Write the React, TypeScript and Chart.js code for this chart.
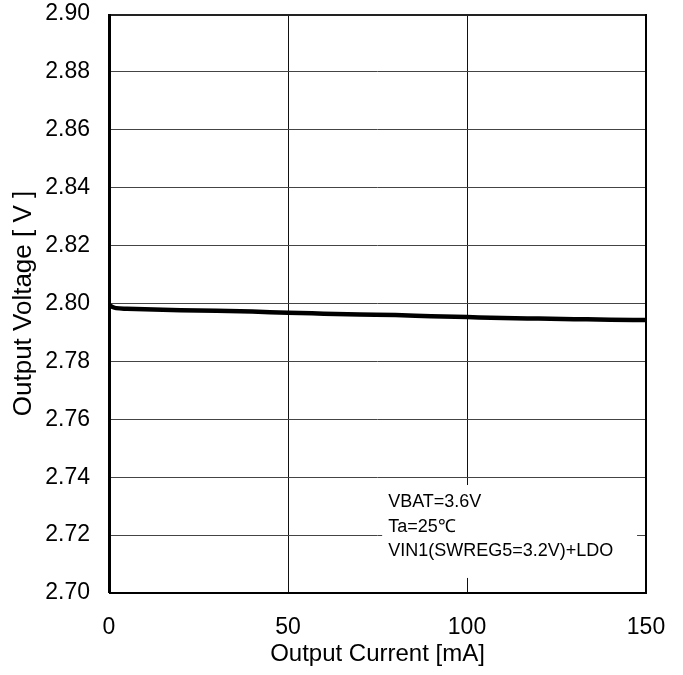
import React, { useEffect, useRef } from "react";
import { Chart, registerables } from "chart.js";

Chart.register(...registerables);

const currents: number[] = [0, 1, 2, 5, 10, 20, 30, 40, 50, 60, 70, 80, 90, 100, 110, 120, 130, 140, 150];
const voltages: number[] = [2.7995, 2.7988, 2.7984, 2.7982, 2.798, 2.7977, 2.7975, 2.7972, 2.7968, 2.7965, 2.7962, 2.796, 2.7956, 2.7953, 2.795, 2.7948, 2.7946, 2.7944, 2.7943];
const noteLines: string[] = ["VBAT=3.6V", "Ta=25\u2103", "VIN1(SWREG5=3.2V)+LDO"];
const xTitle = "Output Current [mA]";
const yTitle = "Output Voltage [ V ]";

const FONT = "'Liberation Sans', Arial, sans-serif";

const notePlugin = {
  id: "noteBox",
  beforeDatasetsDraw(chart: any) {
    const { ctx, scales } = chart;
    const x = scales.x, y = scales.y;
    const left = x.getPixelForValue(76.3);
    const right = x.getPixelForValue(147.5);
    const top = y.getPixelForValue(2.7373);
    const bottom = y.getPixelForValue(2.7052);
    ctx.save();
    ctx.fillStyle = "#ffffff";
    ctx.fillRect(left, top, right - left, bottom - top);
    ctx.fillStyle = "#000000";
    ctx.font = "18px " + FONT;
    ctx.textAlign = "left";
    ctx.textBaseline = "alphabetic";
    noteLines.forEach((t, i) => {
      ctx.fillText(t, left + 6, top + 22 + i * 24.5);
    });
    ctx.restore();
  },
};

const framePlugin = {
  id: "frame",
  afterDatasetsDraw(chart: any) {
    const { ctx, chartArea } = chart;
    const { left, right, top, bottom } = chartArea;
    ctx.save();
    ctx.strokeStyle = "#222";
    ctx.lineWidth = 2;
    ctx.beginPath();
    ctx.moveTo(left, top + 1);
    ctx.lineTo(right, top + 1);
    ctx.stroke();
    ctx.strokeStyle = "#000";
    ctx.beginPath();
    ctx.moveTo(right, top);
    ctx.lineTo(right, bottom);
    ctx.stroke();
    ctx.lineWidth = 3;
    ctx.beginPath();
    ctx.moveTo(left + 0.5, top);
    ctx.lineTo(left + 0.5, bottom);
    ctx.stroke();
    ctx.lineWidth = 2;
    ctx.beginPath();
    ctx.moveTo(left, bottom);
    ctx.lineTo(right + 1, bottom);
    ctx.stroke();
    ctx.restore();
  },
};

export default function App() {
  const ref = useRef<HTMLCanvasElement>(null);
  useEffect(() => {
    document.body.style.margin = "0";
    const canvas = ref.current;
    if (!canvas) return;
    const chart = new Chart(canvas, {
      type: "line",
      data: {
        datasets: [
          {
            data: currents.map((c, i) => ({ x: c, y: voltages[i] })),
            borderColor: "#000",
            borderWidth: 4.5,
            pointRadius: 0,
            cubicInterpolationMode: "monotone",
            fill: false,
          },
        ],
      },
      options: {
        responsive: false,
        animation: false,
        devicePixelRatio: 1,
        layout: { padding: { top: 14, right: 37, left: 0, bottom: 0 } },
        plugins: { legend: { display: false }, tooltip: { enabled: false } },
        scales: {
          x: {
            type: "linear",
            min: 0,
            max: 150,
            afterFit: (s: any) => {
              s.height = 82;
              s.paddingLeft = 0;
              s.paddingRight = 0;
            },
            ticks: {
              stepSize: 50,
              color: "#000",
              font: { family: FONT, size: 23 },
              padding: 21,
              maxRotation: 0,
            },
            grid: {
              drawTicks: false,
              color: (c: any) => (c.tick && (c.tick.value === 0 || c.tick.value === 150) ? "rgba(0,0,0,0)" : "#111"),
              lineWidth: 1,
            },
            border: { display: false },
            title: {
              display: true,
              text: xTitle,
              color: "#000",
              font: { family: FONT, size: 24 },
              padding: { top: 0, bottom: 6 },
            },
          },
          y: {
            type: "linear",
            min: 2.7,
            max: 2.9,
            afterFit: (s: any) => {
              s.width = 109;
              s.paddingTop = 0;
              s.paddingBottom = 0;
            },
            ticks: {
              stepSize: 0.02,
              color: "#000",
              font: { family: FONT, size: 23 },
              padding: 19,
              callback: (v: any) => Number(v).toFixed(2),
            },
            grid: {
              drawTicks: false,
              color: (c: any) => (c.tick && (Math.abs(c.tick.value - 2.7) < 1e-6 || Math.abs(c.tick.value - 2.9) < 1e-6) ? "rgba(0,0,0,0)" : "#444"),
              lineWidth: 1,
            },
            border: { display: false },
            title: {
              display: true,
              text: yTitle,
              color: "#000",
              font: { family: FONT, size: 26 },
              padding: { top: 8, bottom: 0 },
            },
          },
        },
      } as any,
      plugins: [notePlugin, framePlugin],
    });
    return () => chart.destroy();
  }, []);
  return (
    <div style={{ width: 683, height: 675, background: "#fff" }}>
      <canvas ref={ref} width={683} height={675} />
    </div>
  );
}
